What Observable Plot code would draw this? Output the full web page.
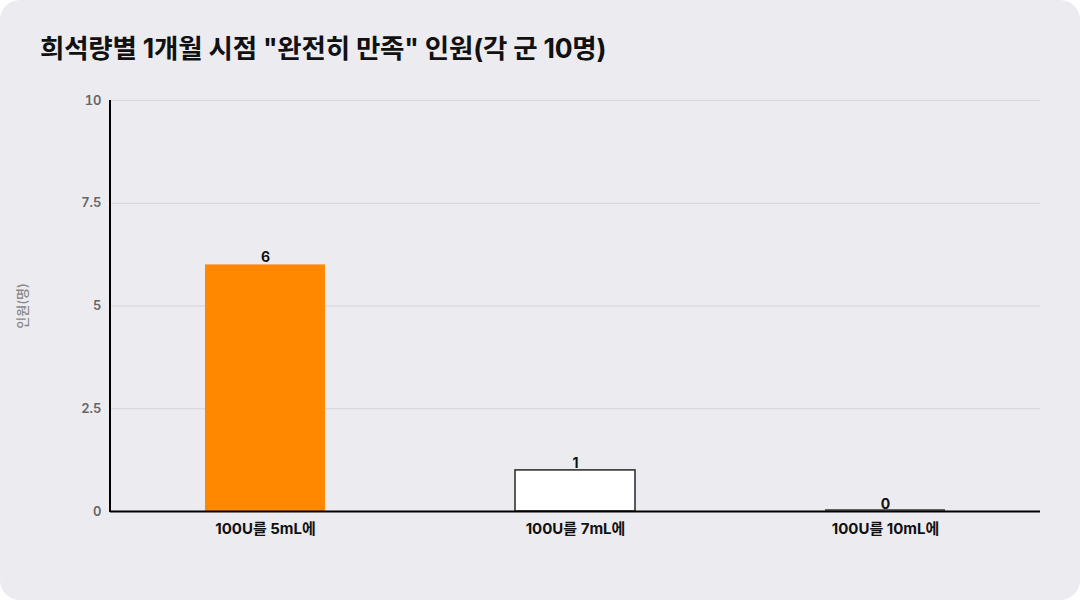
<!DOCTYPE html>
<html>
<head>
<meta charset="utf-8">
<script src="https://cdn.jsdelivr.net/npm/d3@7"></script>
<script src="https://cdn.jsdelivr.net/npm/@observablehq/plot@0.6"></script>
<style>
  html, body { margin: 0; padding: 0; background: #ffffff; }
  #card {
    position: relative; width: 1080px; height: 600px; overflow: hidden;
    background: #ECEBF0; border-radius: 20px;
    font-family: Inter, "Noto Sans CJK KR", sans-serif;
  }
  #title {
    position: absolute; left: 40px; top: 33px; margin: 0;
    font-size: 26.5px; font-weight: 700; color: #111; line-height: 30px;
    letter-spacing: -0.2px;
  }
  #chart { position: absolute; left: 0; top: 0; }
</style>
</head>
<body>
<div id="card">
  <div id="chart"></div>
  <h1 id="title">희석량별 1개월 시점 "완전히 만족" 인원(각 군 10명)</h1>
</div>
<script>
const categories = ["100U를 5mL에", "100U를 7mL에", "100U를 10mL에"];
const counts = [6, 1, 0];
const fills = ["#FF8800", "#FFFFFF", "#FFFFFF"];
const strokes = ["none", "#333333", "#333333"];
const yTicks = [0, 2.5, 5, 7.5, 10];
const yLabel = "인원(명)";

const data = categories.map((c, i) => ({cat: c, n: counts[i], fill: fills[i], stroke: strokes[i]}));

const chart = Plot.plot({
  width: 1080,
  height: 600,
  marginLeft: 110,
  marginRight: 40,
  marginTop: 100,
  marginBottom: 89,
  style: {background: "transparent", fontFamily: 'Inter, "Noto Sans CJK KR", sans-serif', overflow: "visible"},
  x: {domain: categories, paddingInner: 0.613, paddingOuter: 0.3065, label: null},
  y: {domain: [0, 10], label: null},
  marks: [
    Plot.gridY(yTicks, {stroke: "#d6d5dc", strokeOpacity: 1, strokeWidth: 1}),
    Plot.axisY(yTicks, {
      tickSize: 0, tickPadding: 9, fontSize: 13, fontWeight: 600, fill: "#666",
      tickFormat: d => String(d), label: null
    }),
    Plot.text([yLabel], {
      frameAnchor: "left", textAnchor: "middle", dx: -88, rotate: -90, fontSize: 13, fill: "#888", fontWeight: 500
    }),
    Plot.barY(data, {
      x: "cat", y: "n", fill: d => d.fill, stroke: d => d.stroke, strokeWidth: 1.6
    }),
    Plot.tickY(data.filter(d => d.n === 0), {
      x: "cat", y: "n", stroke: "#333", strokeWidth: 1.6, dy: -1.5
    }),
    Plot.ruleY([0], {stroke: "#000", strokeWidth: 2}),
    Plot.axisX({
      tickSize: 0, tickPadding: 12, fontSize: 15, fontWeight: 700, fill: "#111", label: null
    }),
    Plot.text(data, {
      x: "cat", y: "n", text: d => String(d.n), dy: -7, fontSize: 14, fontWeight: 700, fill: "#111"
    })
  ]
});

// y axis line
const svg = d3.select(chart);
svg.append("line")
  .attr("x1", 110).attr("x2", 110)
  .attr("y1", 100).attr("y2", 512)
  .attr("stroke", "#000").attr("stroke-width", 2);

document.getElementById("chart").appendChild(chart);
</script>
</body>
</html>
